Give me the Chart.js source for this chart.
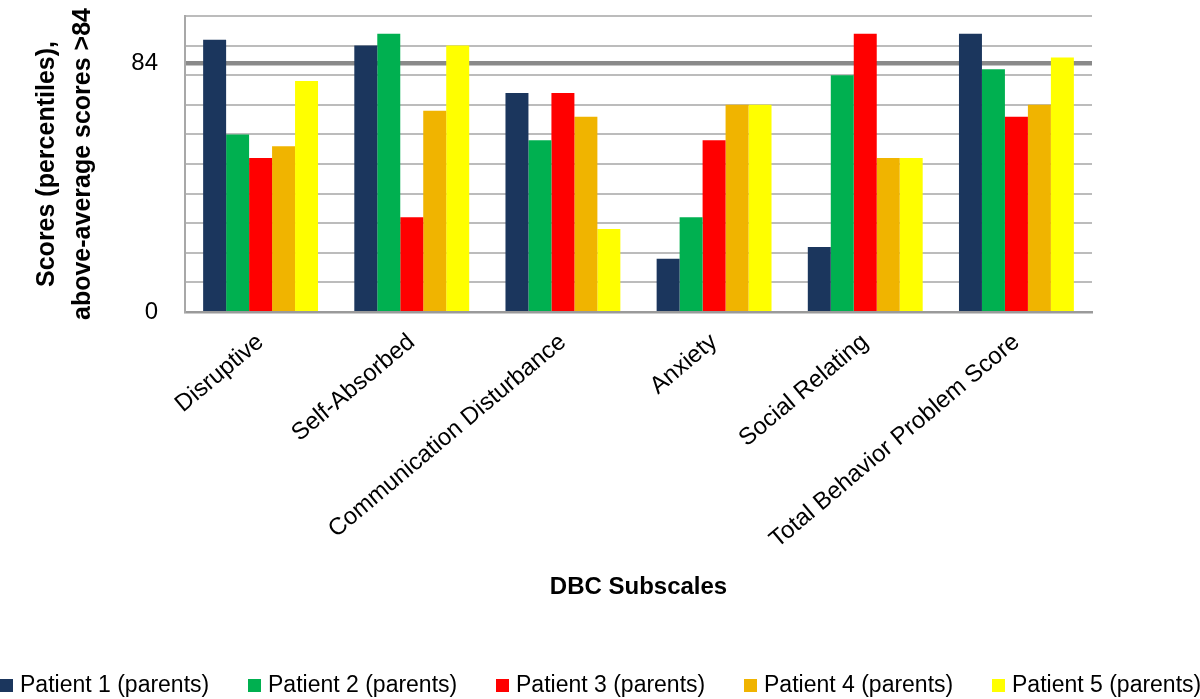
<!DOCTYPE html>
<html lang="en">
<head>
	<meta charset="UTF-8">
	<title>DBC Subscales</title>
	<script src="https://cdn.jsdelivr.net/npm/chart.js"></script>
	<style>
		body { margin: 0; background: #fff; }
		#wrap { width: 1200px; height: 699px; }
	</style>
</head>
<body>
	<div id="wrap">
		<canvas id="chart"></canvas>
	</div>
	<script>
		const categories = ['Disruptive', 'Self-Absorbed', 'Communication Disturbance', 'Anxiety', 'Social Relating', 'Total Behavior Problem Score'];
		const seriesNames = ['Patient 1 (parents)', 'Patient 2 (parents)', 'Patient 3 (parents)', 'Patient 4 (parents)', 'Patient 5 (parents)'];
		const patient1 = [92, 90, 74, 18, 22, 94];
		const patient2 = [60, 94, 58, 32, 80, 82];
		const patient3 = [52, 32, 74, 58, 94, 66];
		const patient4 = [56, 68, 66, 70, 52, 70];
		const patient5 = [78, 90, 28, 70, 52, 86];
		const gridValues = [0, 10, 20, 30, 40, 50, 60, 70, 80, 84, 90, 100];
		const labelledTicks = [0, 84];
		const threshold = 84;

		const colors = ['#1b365d', '#00b050', '#ff0000', '#f0b400', '#ffff00'];
		const FONT = '"Liberation Sans", Arial, Helvetica, sans-serif';

		// legend drawn by hand so the items can spread over the full width
		const bottomLegend = {
			id: 'bottomLegend',
			afterDraw(chart) {
				const c = chart.ctx;
				c.save();
				c.font = '23px ' + FONT;
				c.textBaseline = 'middle';
				chart.data.datasets.forEach((ds, i) => {
					const x = i * 248;
					c.fillStyle = ds.backgroundColor;
					c.fillRect(x, 679, 13, 13);
					c.fillStyle = '#000';
					c.fillText(ds.label, x + 20, 686);
				});
				c.restore();
			}
		};

		const values = [patient1, patient2, patient3, patient4, patient5];
		const datasets = seriesNames.map((name, i) => ({
			label: name,
			data: values[i],
			backgroundColor: colors[i],
			borderWidth: 0,
			categoryPercentage: 0.76,
			barPercentage: 1.0
		}));

		new Chart(document.getElementById('chart'), {
			type: 'bar',
			data: { labels: categories, datasets: datasets },
			plugins: [bottomLegend],
			options: {
				responsive: true,
				maintainAspectRatio: false,
				animation: false,
				layout: { padding: { top: 16, right: 108, left: 0, bottom: 45 } },
				plugins: {
					legend: { display: false },
					tooltip: { enabled: false }
				},
				scales: {
					x: {
						afterFit: (scale) => { scale.height = 342; },
						grid: { display: false, drawTicks: false },
						border: { display: true, color: '#9a9a9a', width: 2.5 },
						ticks: {
							color: '#000',
							font: { family: FONT, size: 24 },
							minRotation: 40,
							maxRotation: 40,
							padding: 16,
							autoSkip: false
						},
						title: {
							display: true,
							text: 'DBC Subscales',
							color: '#000',
							font: { family: FONT, size: 24, weight: 'bold' },
							padding: { top: 0, bottom: 52 }
						}
					},
					y: {
						min: 0,
						max: 100,
						afterFit: (scale) => { scale.width = 185; },
						afterBuildTicks: (scale) => {
							scale.ticks = gridValues.map(v => ({ value: v }));
						},
						grid: {
							drawTicks: true,
							tickLength: 27,
							tickColor: 'rgba(0,0,0,0)',
							color: (ctx) => ctx.tick && ctx.tick.value === threshold ? '#8a8a8a' : '#bcbcbc',
							lineWidth: (ctx) => ctx.tick && ctx.tick.value === threshold ? 4.5 : 2
						},
						border: { display: true, color: '#a8a8a8', width: 2 },
						ticks: {
							color: '#000',
							font: { family: FONT, size: 24 },
							padding: 0,
							autoSkip: false,
							callback: (v) => labelledTicks.includes(v) ? String(v) : ''
						},
						title: {
							display: true,
							text: ['Scores (percentiles),', 'above-average scores >84'],
							color: '#000',
							font: { family: FONT, size: 25, weight: 'bold', lineHeight: 1.44 },
							padding: { top: 29, bottom: 0 }
						}
					}
				}
			}
		});
	</script>
</body>
</html>
